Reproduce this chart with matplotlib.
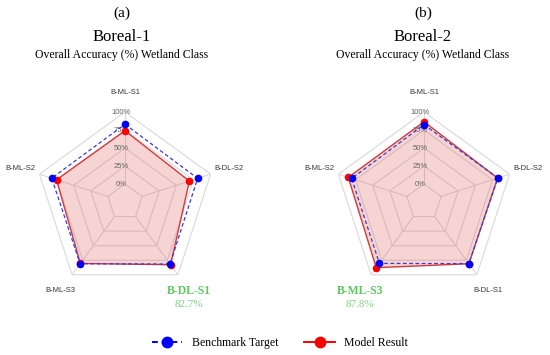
import numpy as np
import matplotlib
matplotlib.use("Agg")
import matplotlib.pyplot as plt
from matplotlib.lines import Line2D

# axis categories (clockwise from the top)
categories = ["B-ML-S1", "B-DL-S2", "B-DL-S1", "B-ML-S3", "B-ML-S2"]
ring_values = [0, 25, 50, 75, 100]
ring_labels = ["0%", "25%", "50%", "75%", "100%"]

# Boreal-1
b1_benchmark = [83.0, 81.0, 81.5, 81.0, 82.0]
b1_model = [74.0, 69.0, 82.7, 80.5, 75.0]
# Boreal-2
b2_benchmark = [82.4, 82.9, 80.9, 80.4, 80.7]
b2_model = [86.5, 82.5, 81.0, 87.8, 85.6]

panels = [
    ("(a)", "Boreal-1", b1_benchmark, b1_model, 2),   # best: B-DL-S1
    ("(b)", "Boreal-2", b2_benchmark, b2_model, 3),   # best: B-ML-S3
]

SERIF = "Liberation Serif"
SANS = "Liberation Sans"
RMIN = -25

fig = plt.figure(figsize=(5.5, 3.55), dpi=100)
fig.patch.set_facecolor("white")

n = len(categories)
theta = np.linspace(0, 2 * np.pi, n, endpoint=False)
theta_c = np.append(theta, theta[0])

rects = [[35 / 550, 63 / 355, 180 / 550, 180 / 355],
         [334 / 550, 63 / 355, 180 / 550, 180 / 355]]
title_x = [122 / 550, 423 / 550]

for (tag, name, bench, model, best), rect, tx in zip(panels, rects, title_x):
    ax = fig.add_axes(rect, projection="polar")
    ax.set_theta_offset(np.pi / 2)
    ax.set_theta_direction(-1)
    ax.set_ylim(RMIN, 100)
    ax.grid(False)
    ax.spines["polar"].set_visible(False)
    ax.set_xticks([])
    ax.set_yticks([])
    ax.patch.set_alpha(0)

    # pentagon grid
    for r in ring_values:
        ax.plot(theta_c, [r] * (n + 1), color="#d9d9d9", lw=0.8, zorder=1)
    for t in theta:
        ax.plot([t, t], [0, 100], color="#d9d9d9", lw=0.8, zorder=1)

    # series
    m = np.append(model, model[0])
    b = np.append(bench, bench[0])
    ax.fill(theta_c, m, color="#e06666", alpha=0.28, lw=0, zorder=2)
    ax.plot(theta_c, m, color="#d43a3a", lw=1.0, zorder=3)
    ax.plot(theta, model, "o", color="#ff0000", ms=4.5, zorder=4)
    ax.plot(theta_c, b, color="#3a3ad0", lw=0.9, ls=(0, (3, 2)), zorder=5)
    ax.plot(theta, bench, "o", color="#0000ff", ms=4.5, zorder=6)

    # radial tick labels
    for r, lab in zip(ring_values, ring_labels):
        ax.annotate(lab, (0, r), xytext=(-3, 0), textcoords="offset points",
                    ha="center", va="center", fontsize=5.5, color="#666666",
                    family=SANS, zorder=3)

    # category labels
    for i, (t, cat) in enumerate(zip(theta, categories)):
        if i == best:
            ax.text(t, 127, cat, ha="center", va="center", fontsize=8.5,
                    fontweight="bold", color="#5cc85c", family=SERIF,
                    clip_on=False)
            ax.annotate(f"{model[i]:.1f}%", (t, 127), xytext=(0, -10),
                        textcoords="offset points", ha="center", va="center",
                        fontsize=8, color="#80d080", family=SERIF,
                        annotation_clip=False)
        elif i in (1, 4):
            ax.annotate(cat, (t, 106), xytext=(0, 3),
                        textcoords="offset points",
                        ha="left" if i == 1 else "right", va="center",
                        fontsize=5.5, color="#333333", family=SANS,
                        annotation_clip=False)
        else:
            ax.text(t, 127, cat, ha="center", va="center", fontsize=5.5,
                    color="#333333", family=SANS, clip_on=False)

    fig.text(tx, 1 - 13 / 355, tag, ha="center", va="center", fontsize=11,
             family=SERIF)
    fig.text(tx, 1 - 37 / 355, name, ha="center", va="center", fontsize=12,
             family=SERIF)
    fig.text(tx, 1 - 55 / 355, "Overall Accuracy (%) Wetland Class",
             ha="center", va="center", fontsize=8.5, family=SERIF)

handles = [
    Line2D([], [], color="#0000ff", ls=(0, (3, 2)), lw=1.4, marker="o", ms=7.5),
    Line2D([], [], color="#ff0000", ls="-", lw=1.4, marker="o", ms=7.5),
]
fig.legend(handles, ["Benchmark Target", "Model Result"], loc="center",
           bbox_to_anchor=(280 / 550, 1 - 343 / 355), ncol=2, frameon=False,
           prop={"family": SERIF, "size": 8.5}, handlelength=2.6,
           columnspacing=2.2, handletextpad=0.8)

fig.savefig("out.png", dpi=100)
